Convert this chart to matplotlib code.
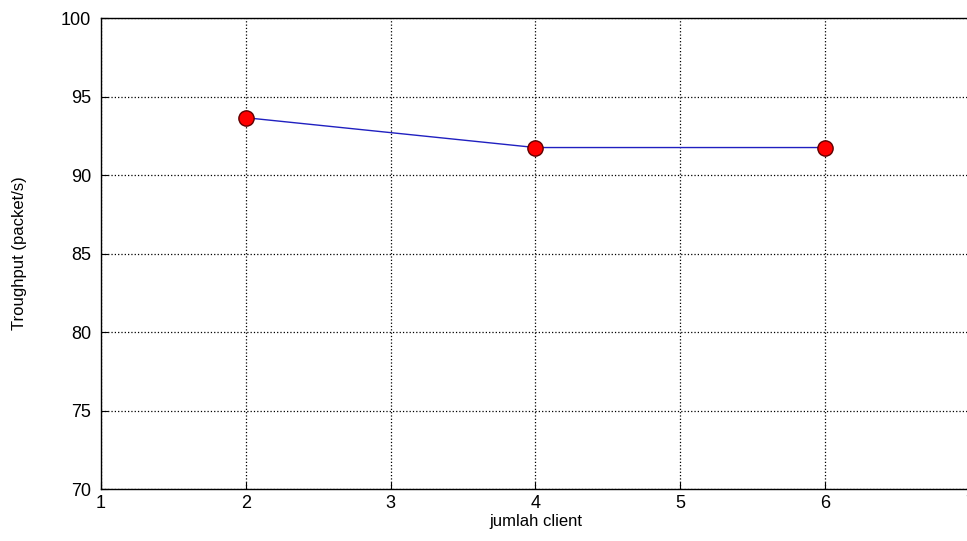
import matplotlib
matplotlib.use('Agg')
import matplotlib.pyplot as plt

# data
clients = [2, 4, 6]
throughput = [93.65, 91.75, 91.75]
xticks = [1, 2, 3, 4, 5, 6, 7]
yticks = [70, 75, 80, 85, 90, 95, 100]

plt.rcParams['font.family'] = ['Liberation Sans', 'DejaVu Sans']

fig = plt.figure(figsize=(9.67, 5.41), dpi=100)
ax = fig.add_axes([0.1044, 0.0961, 0.8986, 0.8706])

ax.plot(clients, throughput, color='#2020c0', linewidth=1.0,
        marker='o', markersize=11, markerfacecolor='red',
        markeredgecolor='#600000', markeredgewidth=1.0)

ax.set_xlim(1, 7)
ax.set_ylim(70, 100)
ax.set_xticks(xticks)
ax.set_yticks(yticks)
ax.grid(True, linestyle=':', color='black', linewidth=0.9)
ax.tick_params(direction='in', length=5, labelsize=13)
ax.tick_params(axis='x', pad=4)
ax.tick_params(axis='y', pad=7)
for s in ax.spines.values():
    s.set_linewidth(1.0)

ax.set_xlabel('jumlah client', fontsize=12, labelpad=2)
ax.set_ylabel('Troughput (packet/s)', fontsize=12,
              family=['Liberation Sans Narrow', 'Liberation Sans'], labelpad=10)
ax.yaxis.set_label_coords(-0.085, 0.5)

fig.savefig('out.png', dpi=100)
